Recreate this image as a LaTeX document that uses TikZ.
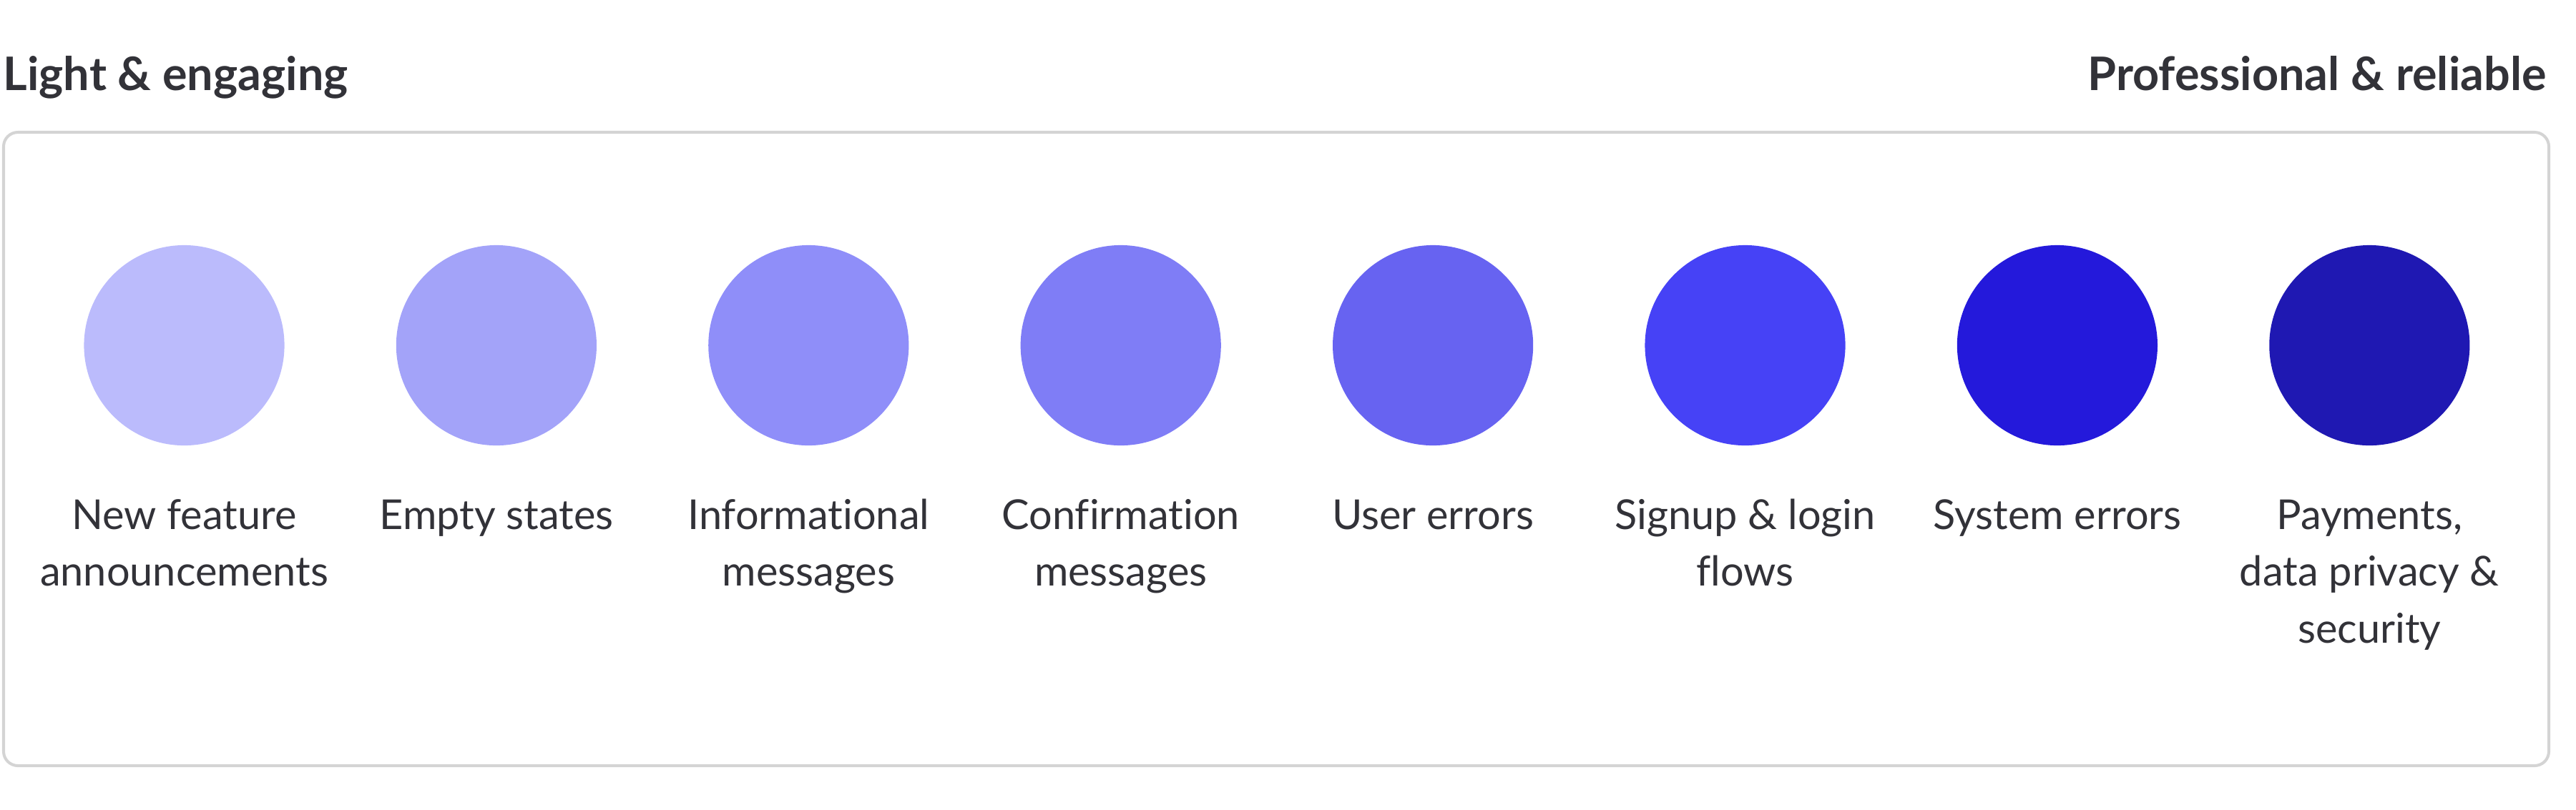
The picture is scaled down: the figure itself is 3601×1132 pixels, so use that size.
\documentclass[tikz,border=0pt]{standalone}
\usepackage{fontspec}
\setmainfont[Ligatures={NoCommon,NoRare}]{Lato}
\definecolor{txt}{HTML}{323238}
\definecolor{frame}{HTML}{D4D4D4}
\definecolor{c1}{HTML}{BBBBFC}
\definecolor{c2}{HTML}{A3A3F9}
\definecolor{c3}{HTML}{8F8EF9}
\definecolor{c4}{HTML}{7F7DF6}
\definecolor{c5}{HTML}{6763F1}
\definecolor{c6}{HTML}{4642F6}
\definecolor{c7}{HTML}{2419DB}
\definecolor{c8}{HTML}{1F18B2}
\tikzset{
  dot/.style={circle, minimum size=2.8cm, inner sep=0pt, draw=none},
  lbl/.style={anchor=base, align=center, text=txt, inner sep=0pt,
    font=\fontsize{16.4pt}{22.6pt}\selectfont},
  ttl/.style={text=txt, inner sep=0pt, font=\fontsize{18.4pt}{22pt}\selectfont\bfseries},
  panel/.style={draw=frame, line width=1.15pt, rounded corners=0.2cm}
}
\begin{document}
\begin{tikzpicture}[x=0.01cm, y=-0.01cm]
\useasboundingbox (0,0) rectangle (3601,1132);
\node[ttl, anchor=base west] (tl) at (4,126) {Light \& engaging};
\node[ttl, anchor=base east] (tr) at (3560,126) {Professional \& reliable};
\draw[panel] (5,185) rectangle (3563,1071);
\foreach \i/\c/\n/\t in {0/c1/2/{New feature\\announcements},
                      1/c2/1/{Empty states},
                      2/c3/2/{Informational\\messages},
                      3/c4/2/{Confirmation\\messages},
                      4/c5/1/{User errors},
                      5/c6/2/{Signup \& login\\flows},
                      6/c7/1/{System errors},
                      7/c8/3/{Payments,\\data privacy \&\\security}} {
  \node[dot, fill=\c] (d\i) at ({257.5+436.4*\i},483) {};
  \node[lbl] (l\i) at ({257.5+436.4*\i},{740+79.5*(\n-1)}) {\t};
}
\end{tikzpicture}
\end{document}
